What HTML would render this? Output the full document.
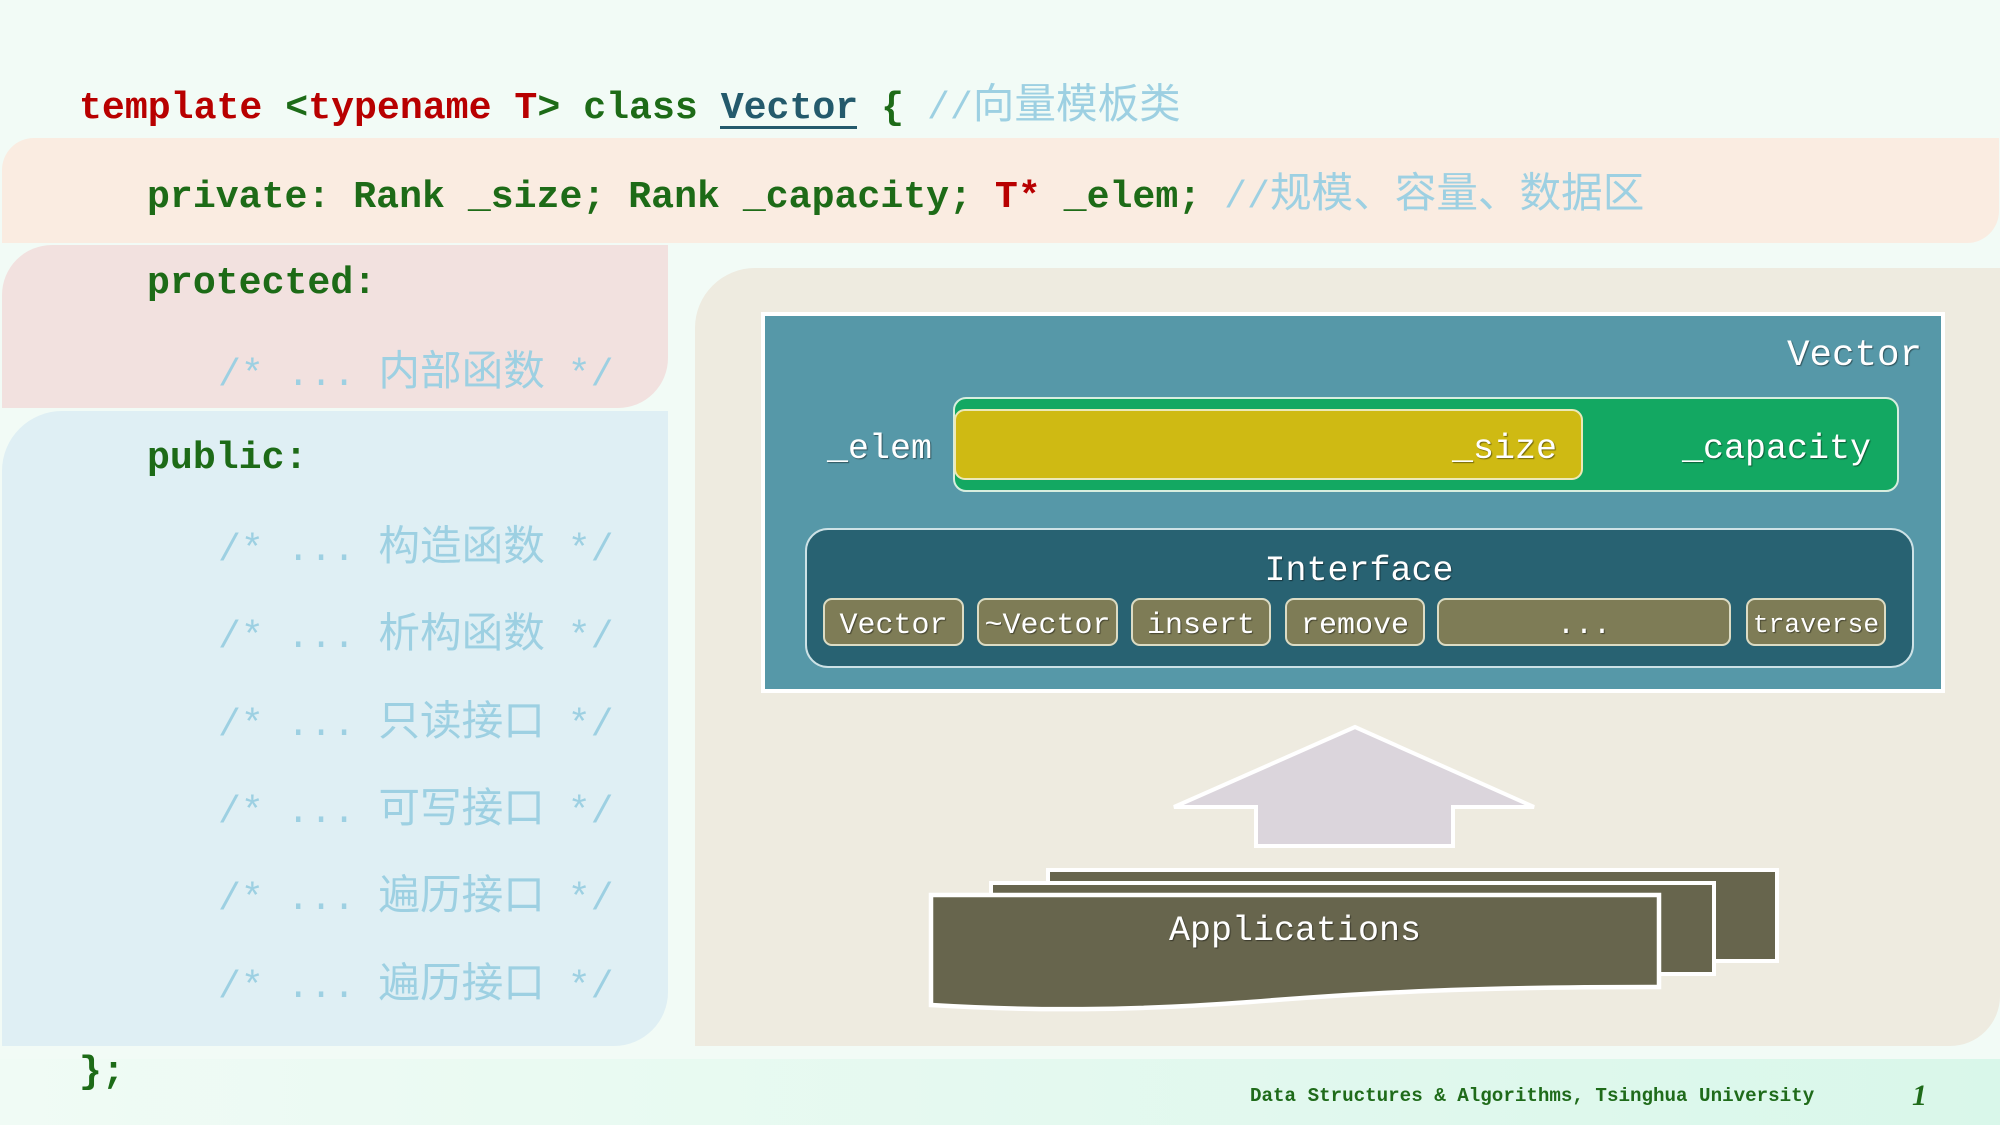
<!DOCTYPE html>
<html>
<head>
<meta charset="utf-8">
<style>
html,body{margin:0;padding:0;background:#f2fbf6;}
svg{display:block;}
.code{font-family:"Liberation Mono","Noto Sans CJK SC",monospace;font-size:38.2px;font-weight:bold;white-space:pre;}
.cm{font-weight:normal;fill:#9dd0e2;}
.cjk{font-family:"Noto Sans CJK SC","WenQuanYi Zen Hei",sans-serif;font-size:41.6px;font-weight:normal;}
.dg{font-family:"Liberation Mono",monospace;fill:#ffffff;white-space:pre;text-shadow:1px 1px 1px rgba(0,0,0,0.45);}
</style>
</head>
<body>
<svg width="2000" height="1125" viewBox="0 0 2000 1125" xmlns="http://www.w3.org/2000/svg">
  <defs>
    <linearGradient id="foot" x1="0" y1="0" x2="1" y2="0">
      <stop offset="0" stop-color="#f0fbf5"/>
      <stop offset="1" stop-color="#d9f7ea"/>
    </linearGradient>
  </defs>
  <rect x="0" y="0" width="2000" height="1125" fill="#f2fbf6"/>
  <!-- footer band -->
  <rect x="0" y="1059" width="2000" height="66" fill="url(#foot)"/>

  <!-- peach private band -->
  <path d="M2,170 A32,32 0 0 1 34,138 L1999,138 L1999,211 A32,32 0 0 1 1967,243 L2,243 Z" fill="#faece1"/>
  <!-- pink protected -->
  <path d="M2,295 A50,50 0 0 1 52,245 L668,245 L668,358 A50,50 0 0 1 618,408 L2,408 Z" fill="#f2e1df"/>
  <!-- blue public -->
  <path d="M2,471 A60,60 0 0 1 62,411 L668,411 L668,992 A54,54 0 0 1 614,1046 L2,1046 Z" fill="#dfeff4"/>
  <!-- beige panel -->
  <path d="M695,328 A60,60 0 0 1 755,268 L2000,268 L2000,996 A50,50 0 0 1 1950,1046 L695,1046 Z" fill="#eeebe0"/>

  <!-- code text -->
  <text class="code" x="79" y="118"><tspan fill="#b80000">template</tspan> <tspan fill="#1d6b17">&lt;</tspan><tspan fill="#b80000">typename T</tspan><tspan fill="#1d6b17">&gt; class </tspan><tspan fill="#245a6c">Vector</tspan><tspan fill="#1d6b17"> { </tspan><tspan class="cm">//<tspan class="cjk">向量模板类</tspan></tspan></text>
  <rect x="720" y="126" width="137" height="3" fill="#245a6c"/>

  <text class="code" x="147" y="207"><tspan fill="#1d6b17">private: Rank _size; Rank _capacity; </tspan><tspan fill="#b80000">T*</tspan><tspan fill="#1d6b17"> _elem; </tspan><tspan class="cm">//<tspan class="cjk">规模、容量、数据区</tspan></tspan></text>

  <text class="code" x="147" y="293" fill="#1d6b17">protected:</text>
  <text class="code cm" x="218" y="385">/* ... <tspan class="cjk">内部函数</tspan> */</text>

  <text class="code" x="147" y="468" fill="#1d6b17">public:</text>
  <text class="code cm" x="218" y="560">/* ... <tspan class="cjk">构造函数</tspan> */</text>
  <text class="code cm" x="218" y="647">/* ... <tspan class="cjk">析构函数</tspan> */</text>
  <text class="code cm" x="218" y="735">/* ... <tspan class="cjk">只读接口</tspan> */</text>
  <text class="code cm" x="218" y="822">/* ... <tspan class="cjk">可写接口</tspan> */</text>
  <text class="code cm" x="218" y="909">/* ... <tspan class="cjk">遍历接口</tspan> */</text>
  <text class="code cm" x="218" y="997">/* ... <tspan class="cjk">遍历接口</tspan> */</text>

  <text class="code" x="79" y="1082" fill="#1d6b17">};</text>

  <!-- Vector box -->
  <rect x="763" y="314" width="1180" height="377" fill="#5698a8" stroke="#ffffff" stroke-width="4"/>
  <text class="dg" x="1922" y="365" font-size="37.5" text-anchor="end">Vector</text>

  <!-- capacity / size -->
  <rect x="954" y="398" width="944" height="93" rx="12" fill="#13a862" stroke="#d7eedf" stroke-width="2"/>
  <rect x="955" y="410" width="627" height="69" rx="10" fill="#cfba13" stroke="#ece9b8" stroke-width="2"/>
  <text class="dg" x="827" y="458" font-size="35">_elem</text>
  <text class="dg" x="1557" y="458" font-size="35" text-anchor="end">_size</text>
  <text class="dg" x="1871" y="458" font-size="35" text-anchor="end">_capacity</text>

  <!-- Interface -->
  <rect x="806" y="529" width="1107" height="138" rx="22" fill="#286272" stroke="#cde2e6" stroke-width="2"/>
  <text class="dg" x="1359" y="580" font-size="35" text-anchor="middle">Interface</text>

  <g fill="#7e7c56" stroke="#dcdcc4" stroke-width="2">
    <rect x="824" y="599" width="139" height="46" rx="8"/>
    <rect x="978" y="599" width="139" height="46" rx="8"/>
    <rect x="1132" y="599" width="138" height="46" rx="8"/>
    <rect x="1286" y="599" width="138" height="46" rx="8"/>
    <rect x="1438" y="599" width="292" height="46" rx="8"/>
    <rect x="1747" y="599" width="138" height="46" rx="8"/>
  </g>
  <text class="dg" x="893.5" y="633" font-size="30" text-anchor="middle">Vector</text>
  <text class="dg" x="1047.5" y="633" font-size="30" text-anchor="middle">~Vector</text>
  <text class="dg" x="1201" y="633" font-size="30" text-anchor="middle">insert</text>
  <text class="dg" x="1355" y="633" font-size="30" text-anchor="middle">remove</text>
  <text class="dg" x="1584" y="633" font-size="30" text-anchor="middle">...</text>
  <text class="dg" x="1816" y="632" font-size="26.3" text-anchor="middle">traverse</text>

  <!-- Up arrow -->
  <polygon points="1355,727 1534,807 1453,807 1453,846 1256,846 1256,807 1174,807" fill="#dbd5dc" stroke="#ffffff" stroke-width="4" stroke-linejoin="miter"/>

  <!-- Applications stack -->
  <rect x="1048" y="870" width="729" height="91" fill="#67654d" stroke="#ffffff" stroke-width="4"/>
  <rect x="991" y="883" width="723" height="91" fill="#67654d" stroke="#ffffff" stroke-width="4"/>
  <path d="M931,895 L1659,895 L1659,987 C1500,987 1400,990 1250,1002 C1130,1011 1030,1011 931,1005 Z" fill="#67654d" stroke="#ffffff" stroke-width="4.5"/>
  <text class="dg" x="1295" y="940" font-size="35" text-anchor="middle">Applications</text>

  <!-- footer -->
  <text x="1250" y="1101" font-family="Liberation Mono, monospace" font-weight="bold" font-size="19.2" fill="#1f6b1a" style="white-space:pre">Data Structures &amp; Algorithms, Tsinghua University</text>
  <text x="1912" y="1105" font-family="Liberation Serif, serif" font-style="italic" font-weight="bold" font-size="30" fill="#1f6b1a">1</text>
</svg>
</body>
</html>
